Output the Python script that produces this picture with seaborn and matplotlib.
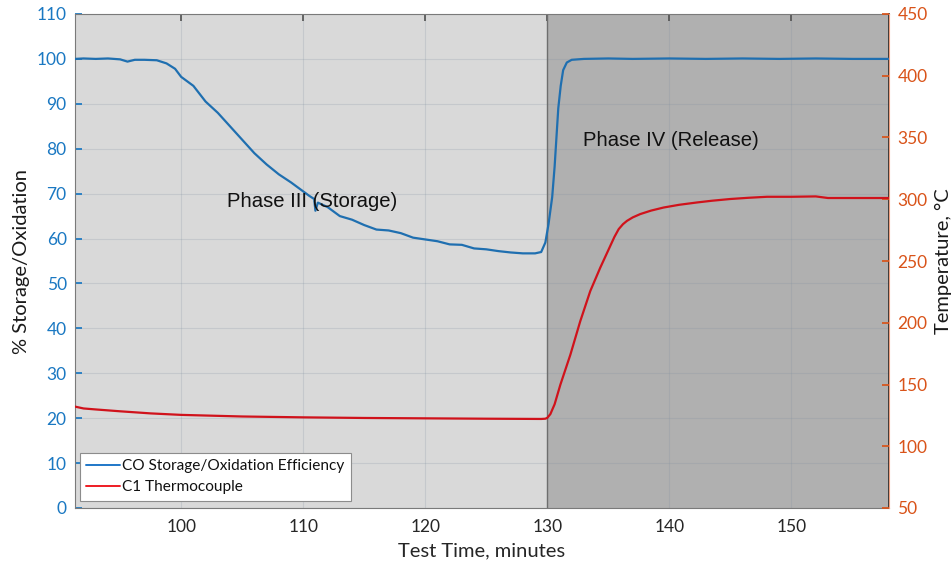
import matplotlib
matplotlib.use("Agg")
import matplotlib.pyplot as plt
from matplotlib.lines import Line2D
import pandas as pd
import seaborn as sns

# CO storage / oxidation efficiency (%) vs test time (min)
t_eff = [91.3, 92.0, 93.0, 94.0, 95.0, 95.6, 96.2, 97.0, 98.0, 98.8, 99.5,
         100.0, 101.0, 102.0, 103.0, 104.0, 105.0, 106.0, 107.0, 108.0, 109.0,
         110.0, 110.5, 110.9, 111.0, 111.2, 112.0, 113.0, 114.0, 115.0, 116.0,
         117.0, 118.0, 119.0, 120.0, 121.0, 122.0, 123.0, 124.0, 125.0, 126.0,
         127.0, 128.0, 129.0, 129.5, 129.84, 130.1, 130.4, 130.6, 130.9, 131.1,
         131.3, 131.6, 132.0, 132.5, 133.0, 135.0, 137.0, 140.0, 143.0, 146.0,
         149.0, 152.0, 155.0, 158.0]
eff = [100.0, 100.1, 100.0, 100.1, 99.9, 99.4, 99.8, 99.8, 99.7, 99.0, 97.8,
       96.0, 94.0, 90.5, 88.0, 85.0, 82.0, 79.0, 76.5, 74.3, 72.5,
       70.5, 69.5, 68.8, 66.2, 68.0, 67.0, 65.0, 64.2, 63.0, 62.0,
       61.8, 61.2, 60.2, 59.8, 59.4, 58.7, 58.6, 57.8, 57.6, 57.2,
       56.9, 56.7, 56.7, 57.0, 59.1, 63.2, 69.2, 76.0, 89.0, 94.0,
       97.5, 99.2, 99.8, 99.9, 100.0, 100.1, 100.0, 100.1, 100.0, 100.1,
       100.0, 100.1, 100.0, 100.0]

# C1 thermocouple temperature (°C) vs test time (min)
t_tc = [91.3, 92.0, 93.0, 95.0, 97.5, 100.0, 105.0, 110.0, 115.0, 120.0,
        125.0, 129.5, 129.84, 130.0, 130.25, 130.6, 131.07, 131.89, 132.70,
        133.52, 134.34, 135.16, 135.5, 135.85, 136.2, 136.53, 137.0, 137.62,
        138.5, 139.53, 140.8, 142.27, 143.5, 145.0, 146.5, 148.0, 150.0,
        152.0, 153.0, 155.0, 158.0]
tc = [132.1, 130.6, 129.8, 128.3, 126.6, 125.4, 124.1, 123.4, 122.9, 122.6,
      122.3, 122.1, 122.3, 123.0, 126.0, 134.0, 149.8, 174.1, 201.2,
      225.6, 244.6, 262.2, 269.5, 275.8, 279.8, 282.5, 285.3, 288.0,
      290.8, 293.3, 295.5, 297.4, 298.8, 300.2, 301.2, 302.0, 302.0,
      302.3, 301.0, 301.0, 301.0]

x_ticks = [100, 110, 120, 130, 140, 150]
left_ticks = list(range(0, 111, 10))
right_ticks = list(range(50, 451, 50))

BLUE = "#1f6fb0"
RED = "#d0121b"
LEFT_TXT = "#1a78c2"
RIGHT_TXT = "#d95319"

sns.set_theme(style="white")
plt.rcParams["font.family"] = ["Lato", "DejaVu Sans"]

df_eff = pd.DataFrame({"time": t_eff, "eff": eff})
df_tc = pd.DataFrame({"time": t_tc, "tc": tc})

fig = plt.figure(figsize=(9.52, 5.67), dpi=100)
ax = fig.add_axes([75 / 952, 1 - 508 / 567, (889 - 75) / 952, (508 - 14) / 567])
ax2 = ax.twinx()

xmin, xmax = 91.3, 158.0
ax.set_facecolor("#d9d9d9")
ax.axvspan(130, xmax, color="#b0b0b0", lw=0, zorder=0)
ax.axvline(130, color="#6e6e6e", lw=1.0, zorder=1)

sns.lineplot(data=df_eff, x="time", y="eff", ax=ax, color=BLUE, lw=1.6,
             estimator=None, sort=False, legend=False, zorder=3)
sns.lineplot(data=df_tc, x="time", y="tc", ax=ax2, color=RED, lw=1.6,
             estimator=None, sort=False, legend=False, zorder=3)

ax.set_xlim(xmin, xmax)
ax.set_ylim(0, 110)
ax2.set_ylim(50, 450)
ax.set_xticks(x_ticks)
ax.set_yticks(left_ticks)
ax2.set_yticks(right_ticks)

ax.grid(True, color="#8090a0", alpha=0.22, lw=0.8)
ax.set_axisbelow(True)

ax.tick_params(axis="x", direction="in", top=True, length=5, color="#555555",
               labelsize=12.5, labelcolor="#262626", pad=8)
ax.tick_params(axis="y", direction="in", length=5, color=LEFT_TXT,
               labelsize=12.5, labelcolor=LEFT_TXT, pad=6)
ax2.tick_params(axis="y", direction="in", length=5, color=RIGHT_TXT,
                labelsize=12.5, labelcolor=RIGHT_TXT, pad=6)

for s in ["left", "top", "bottom"]:
    ax.spines[s].set_color("#7a7a7a")
    ax.spines[s].set_linewidth(0.8)
ax2.spines["right"].set_color("#f0a080")
ax2.spines["right"].set_linewidth(0.8)
for s in ["left", "top", "bottom"]:
    ax2.spines[s].set_visible(False)

ax.set_xlabel("Test Time, minutes", fontsize=14.5, color="#262626", labelpad=5)
ax.set_ylabel("% Storage/Oxidation", fontsize=14.5, color="#1a1a1a", labelpad=5)
ax2.set_ylabel("Temperature, °C", fontsize=14.5, color="#1a1a1a", labelpad=5)

phase_font = ["Liberation Sans", "DejaVu Sans"]
ax.text(110.7, 68.2, "Phase III (Storage)", ha="center", va="center",
        fontsize=14.6, family=phase_font, color="#111111", zorder=4)
ax.text(140.1, 81.8, "Phase IV (Release)", ha="center", va="center",
        fontsize=14.6, family=phase_font, color="#111111", zorder=4)

leg_handles = [Line2D([], [], color="#1f77c8", lw=1.4),
               Line2D([], [], color="#ee1c24", lw=1.4)]
leg = ax2.legend(leg_handles, ["CO Storage/Oxidation Efficiency", "C1 Thermocouple"],
                 loc="lower left", bbox_to_anchor=(0.006, 0.015), fontsize=11.1,
                 frameon=True, fancybox=False, framealpha=1.0, edgecolor="#8c8c8c",
                 handlelength=2.2, handletextpad=0.15, borderpad=0.4,
                 labelspacing=0.45, borderaxespad=0)
leg.get_frame().set_linewidth(0.8)
for t in leg.get_texts():
    t.set_color("#111111")

fig.savefig("out.png", dpi=100)
